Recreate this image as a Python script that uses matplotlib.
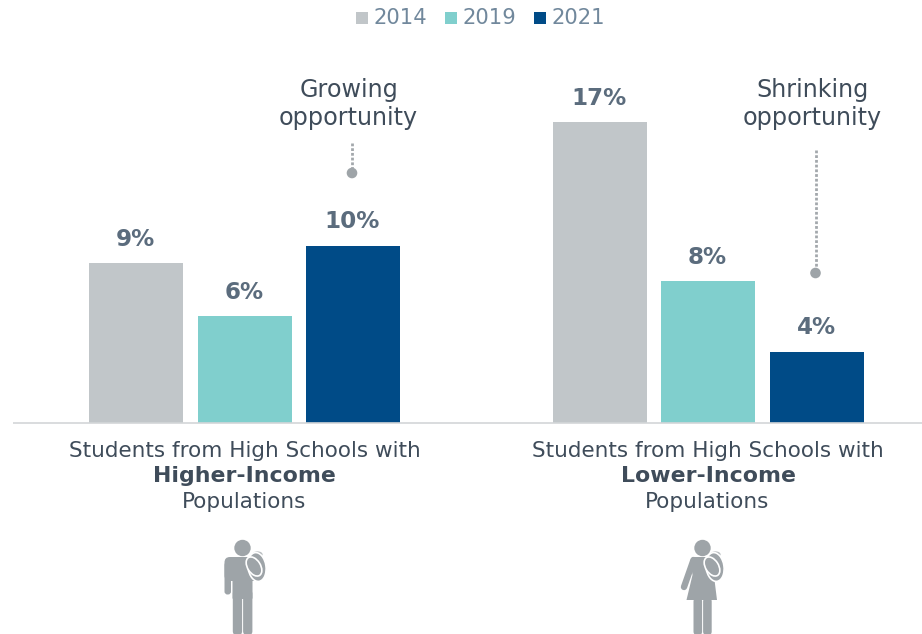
#!/usr/bin/env python

import numpy as np
import matplotlib
matplotlib.use('Agg')
import matplotlib.pyplot as plt
from matplotlib.patches import Circle, Ellipse, FancyBboxPatch, Polygon, Rectangle

years = ['2014', '2019', '2021']
year_colors = ['#C1C6C9', '#80CFCD', '#004B87']
higher_income = [9, 6, 10]
lower_income = [17, 8, 4]
group_names = ['Higher-Income', 'Lower-Income']

W, H = 922, 634
BASE_Y = 422.5
PX_PER_PCT = 17.67
ICON_GREY = '#9EA4A8'
VALUE_COLOR = '#5B6C7D'
NOTE_COLOR = '#3F4C5A'
LABEL_COLOR = '#3F4C5A'
LEGEND_COLOR = '#71889C'

fig = plt.figure(figsize=(W / 100, H / 100), dpi=100)

# bars live in an axes whose y unit is percent, x unit is pixels
ax = fig.add_axes([0, 0, 1, 1])
ax.set_xlim(0, W)
ax.set_ylim(-(H - BASE_Y) / PX_PER_PCT, BASE_Y / PX_PER_PCT)
ax.axis('off')

# overlay in pixel coords for the text and the icons
ov = fig.add_axes([0, 0, 1, 1])
ov.set_xlim(0, W)
ov.set_ylim(H, 0)
ov.axis('off')
ov.patch.set_alpha(0)

centers = [244.5, 708]
offsets = [-108.5, 0, 108.5]
for center, values in zip(centers, [higher_income, lower_income]):
    xs = [center + o for o in offsets]
    ax.bar(xs, values, width=94, color=year_colors, linewidth=0)
    for x, v in zip(xs, values):
        ax.annotate('%d%%' % v, (x - 0.5, v), xytext=(0, 12.5), textcoords='offset pixels',
                    ha='center', va='bottom', fontsize=16.6, fontweight='bold',
                    color=VALUE_COLOR)

ax.plot([13, W], [0, 0], color='#D3D6D8', lw=1.2, solid_capstyle='butt')

# legend
for x, year, color in zip([356, 445, 534], years, year_colors):
    ov.add_patch(Rectangle((x, 12), 12, 12, color=color, lw=0))
    ov.text(x + 17, 17.5, year, fontsize=15.2, color=LEGEND_COLOR, ha='left', va='center')

# category labels
for center, name in zip(centers, group_names):
    ov.text(center, 451, 'Students from High Schools with', fontsize=15.5, color=LABEL_COLOR,
            ha='center', va='center')
    ov.text(center, 476.5, name, fontsize=15.8, fontweight='bold', color=LABEL_COLOR,
            ha='center', va='center')
    ov.text(center - 0.5, 501.5, 'Populations', fontsize=15.5, color=LABEL_COLOR,
            ha='center', va='center')

# callouts
for cx, first in [(348.5, 'Growing'), (812, 'Shrinking')]:
    ov.text(cx, 90, first, fontsize=17.2, color=NOTE_COLOR, ha='center', va='center')
    ov.text(cx, 118.5, 'opportunity', fontsize=17.2, color=NOTE_COLOR, ha='center', va='center')

ov.plot([352, 352], [143, 168], color='#A3A8AC', lw=2, ls=(0, (1, 0.7)))
ov.add_patch(Circle((352, 173), 5.3, color=ICON_GREY, lw=0))
ov.plot([815.5, 815.5], [150, 268], color='#A3A8AC', lw=2, ls=(0, (1, 0.7)))
ov.add_patch(Circle((815.5, 273), 5.3, color=ICON_GREY, lw=0))


def backpack(cx, cy):
    # main sack, then the front pocket and the carry handle
    ov.add_patch(Ellipse((cx + 1.5, cy), 18, 29, angle=-8, fc=ICON_GREY, ec='white', lw=1.2, zorder=4))
    ov.add_patch(Ellipse((cx - 1.5, cy - 0.5), 13, 21, angle=-32, fc=ICON_GREY, ec='white', lw=1.2, zorder=5))
    ov.add_patch(Ellipse((cx + 2, cy - 12.5), 9, 5, fc=ICON_GREY, ec='#B9BDC0', lw=0.9, zorder=3.5))


def rounded(x, y, w, h, r=2.5):
    ov.add_patch(FancyBboxPatch((x + r, y + r), w - 2 * r, h - 2 * r,
                                boxstyle='round,pad=%f,rounding_size=%f' % (r, r),
                                fc=ICON_GREY, ec='none', zorder=3))


def draw_male(cx):
    # cx is the vertical axis of the figure
    ov.add_patch(Circle((cx, 548), 8.2, fc=ICON_GREY, ec='none', zorder=3))
    rounded(cx - 18, 557, 36, 24, 5.5)
    rounded(cx - 18, 562, 6.5, 32.5, 3)
    rounded(cx - 10, 565, 20, 34, 1)
    rounded(cx - 9.7, 590, 9.3, 45, 3.8)
    rounded(cx + 0.6, 590, 9.3, 45, 3.8)
    backpack(cx + 13, 567)


def draw_female(cx):
    ov.add_patch(Circle((cx, 548), 8.2, fc=ICON_GREY, ec='none', zorder=3))
    ov.add_patch(Polygon([(cx - 10, 557), (cx + 9, 557), (cx + 11, 572), (cx + 14.5, 600),
                          (cx - 16, 600), (cx - 10, 575), (cx - 12, 560)],
                         closed=True, fc=ICON_GREY, ec='none', zorder=3))
    ov.plot([cx - 9, cx - 18.5], [560, 587], color=ICON_GREY, lw=4.6, solid_capstyle='round', zorder=3)
    rounded(cx - 9, 598, 8.6, 37, 3.5)
    rounded(cx + 0.6, 598, 8.6, 37, 3.5)
    backpack(cx + 11, 567)


draw_male(242.5)
draw_female(702.5)

plt.savefig('out.png', dpi=100)
